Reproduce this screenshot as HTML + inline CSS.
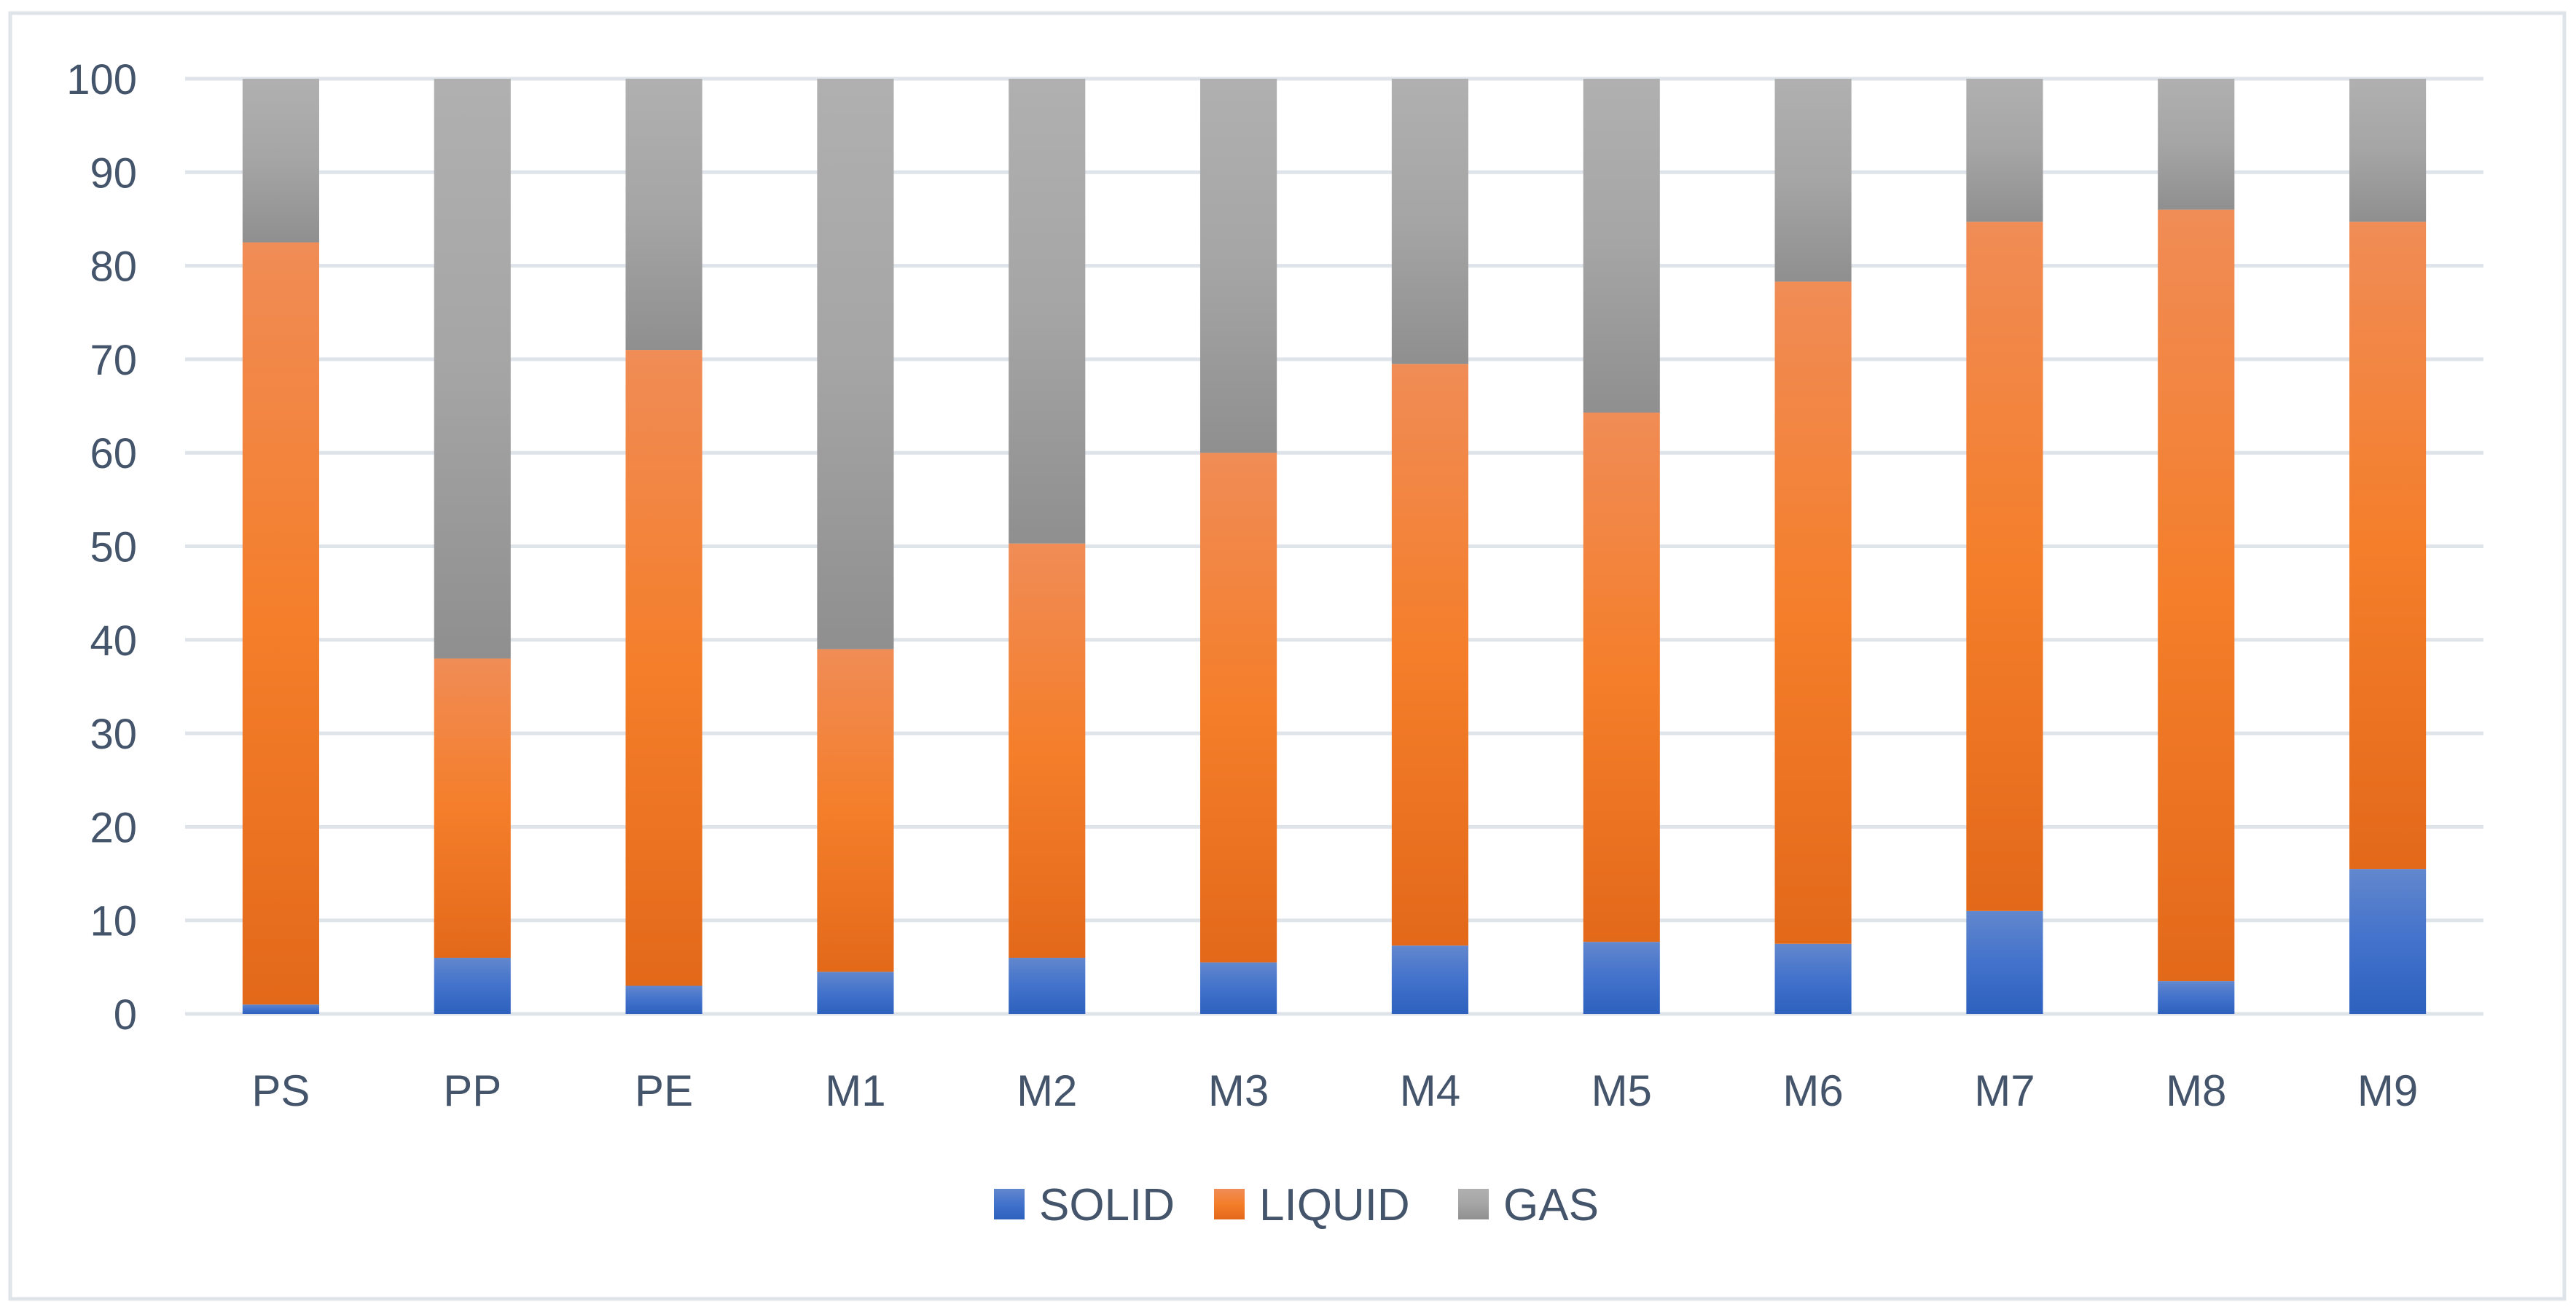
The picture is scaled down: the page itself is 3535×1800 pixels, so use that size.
<!DOCTYPE html>
<html><head><meta charset="utf-8"><style>
html,body{margin:0;padding:0;background:#fff;}
svg{display:block;}
text{font-family:"Liberation Sans",sans-serif;fill:#44546a;}
</style></head><body>
<svg id="chart" width="3535" height="1800" viewBox="0 0 3535 1800" xmlns="http://www.w3.org/2000/svg">
<defs>
<linearGradient id="gSolid" x1="0" y1="0" x2="0" y2="1"><stop offset="0" stop-color="#6287cd"/><stop offset="0.5" stop-color="#4272cc"/><stop offset="1" stop-color="#2d61bd"/></linearGradient>
<linearGradient id="gLiquid" x1="0" y1="0" x2="0" y2="1"><stop offset="0" stop-color="#f08c56"/><stop offset="0.5" stop-color="#f47e2a"/><stop offset="1" stop-color="#e3691a"/></linearGradient>
<linearGradient id="gGas" x1="0" y1="0" x2="0" y2="1"><stop offset="0" stop-color="#b0b0b0"/><stop offset="0.5" stop-color="#a5a5a5"/><stop offset="1" stop-color="#8f8f8f"/></linearGradient>
</defs>
<rect x="14" y="18" width="3505" height="1764" fill="#fff" stroke="#dfe3ea" stroke-width="5"/>
<g id="grid"></g>
<g id="bars"></g>
<g id="labels"></g>
<g id="legend"></g>
</svg>
<script>
const categories = ["PS","PP","PE","M1","M2","M3","M4","M5","M6","M7","M8","M9"];
const solid = [1, 6, 3, 4.5, 6, 5.5, 7.3, 7.7, 7.5, 11, 3.5, 15.5];
const liquid = [81.5, 32, 68, 34.5, 44.3, 54.5, 62.2, 56.6, 70.8, 73.7, 82.5, 69.2];
const gas = [17.5, 62, 29, 61, 49.7, 40, 30.5, 35.7, 21.7, 15.3, 14, 15.3];
const yTicks = [0,10,20,30,40,50,60,70,80,90,100];
const seriesNames = ["SOLID","LIQUID","GAS"];

const NS = "http://www.w3.org/2000/svg";
const L = 254, R = 3408, T = 108, B = 1391;
const band = (R - L) / categories.length;
const bw = band * 0.4;
function y(v){ return B - (v / 100) * (B - T); }
function xc(i){ return L + band * (i + 0.5); }
function mk(tag, attrs, parent){
  const e = document.createElementNS(NS, tag);
  for (const k in attrs) e.setAttribute(k, attrs[k]);
  parent.appendChild(e); return e;
}
const grid = document.getElementById('grid');
const bars = document.getElementById('bars');
const labels = document.getElementById('labels');
const legend = document.getElementById('legend');

yTicks.forEach(t => {
  const ln = mk('line', {x1:L, x2:R, y1:y(t), y2:y(t), stroke:'#dfe3ea', 'stroke-width':5}, grid);
  
  
  const tx = mk('text', {x:188, y:y(t)+21, 'text-anchor':'end', 'font-size':58}, labels);
  tx.textContent = t;
  
  
});

const series = [solid, liquid, gas];
const fills = ['url(#gSolid)','url(#gLiquid)','url(#gGas)'];
categories.forEach((c, i) => {
  let base = 0;
  series.forEach((s, k) => {
    const v = s[i];
    const r = mk('rect', {x:xc(i)-bw/2, y:y(base+v), width:bw, height:y(base)-y(base+v), fill:fills[k]}, bars);
    
    
    base += v;
  });
  const tx = mk('text', {x:xc(i), y:1517, 'text-anchor':'middle', 'font-size':60}, labels);
  tx.textContent = c;
  
  
});

const legX = [1364, 1666, 2001];
seriesNames.forEach((n, k) => {
  const sq = mk('rect', {x:legX[k], y:1631, width:42, height:42, fill:fills[k]}, legend);
  
  
  const tx = mk('text', {x:legX[k]+62, y:1674, 'font-size':62}, legend);
  tx.textContent = n;
  
  
});
</script>
</body></html>
